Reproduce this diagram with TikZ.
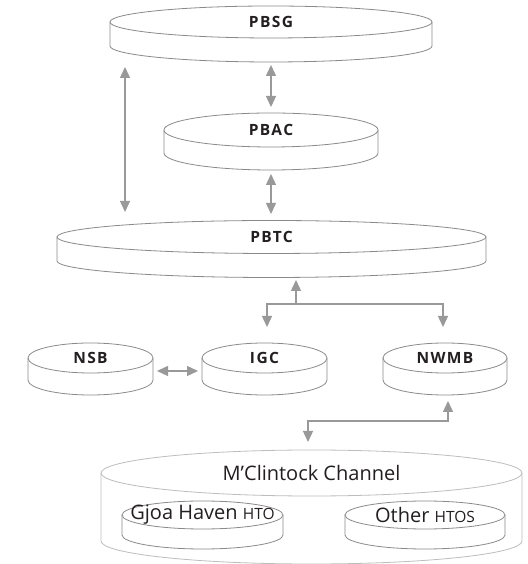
\documentclass[tikz,border=0pt]{standalone}
\usepackage{fontspec}
\setmainfont{Open Sans}
\newfontfamily\lblfont[LetterSpace=9]{Open Sans}
\usetikzlibrary{arrows.meta}
\definecolor{edgegray}{HTML}{8A8A8A}
\definecolor{arrgray}{HTML}{999999}
\definecolor{lightgray}{HTML}{BDBDBD}
\definecolor{txtcol}{HTML}{231F20}
\newcommand\htosc[1]{{\fontsize{15.5}{18}\selectfont #1}}
\newcommand\mydisk[7][]{%
  \draw[diskline,#1] ({#3-#5},#4) -- ({#3-#5},{#4-#7})
     arc[start angle=180,end angle=360,x radius=#5,y radius=#6] -- ({#3+#5},#4);
  \draw[diskline,#1] (#3,#4) ellipse[x radius=#5,y radius=#6];
  \coordinate (#2-c) at (#3,#4);
}
\tikzset{
  diskline/.style={draw=edgegray,line width=0.8pt,fill=white},
  lbl/.style={font=\lblfont\bfseries\fontsize{15.5}{18}\selectfont,text=txtcol,inner sep=0pt},
  plain/.style={font=\fontsize{20}{24}\selectfont,text=txtcol,inner sep=0pt},
  link/.style={draw=arrgray,line width=1.4pt,{Triangle[length=11pt,width=10pt]}-{Triangle[length=11pt,width=10pt]}},
  onearr/.style={draw=arrgray,line width=1.4pt,-{Triangle[length=11pt,width=10pt]}},
}
\begin{document}
\begin{tikzpicture}[x=1pt,y=1pt]
\useasboundingbox (0,0) rectangle (527,564);
% disks
\mydisk{pbsgd}{271}{542}{161}{16}{24}
\node[lbl] (pbsg) at (271,542) {PBSG};
\mydisk{pbacd}{271}{434}{107}{17}{23}
\node[lbl] (pbac) at (271,434) {PBAC};
\mydisk{pbtcd}{271.5}{327}{214.5}{16.5}{24}
\node[lbl] (pbtc) at (271.5,327) {PBTC};
\mydisk{nsbd}{90.5}{206}{62.5}{15}{22}
\node[lbl] (nsb) at (90.5,206) {NSB};
\mydisk{igcd}{264.5}{206}{62.5}{15}{22}
\node[lbl] (igc) at (264.5,206) {IGC};
\mydisk{nwmbd}{445}{206}{62}{15}{22}
\node[lbl] (nwmb) at (445,206) {NWMB};
\mydisk[draw=lightgray]{mccd}{311.5}{91}{210.5}{23}{68}
\node[plain] (mcc) at (311.5,91) {M’Clintock Channel};
\mydisk{gjoad}{202.5}{49}{80.5}{14}{20}
\node[plain] (gjoa) at (202.5,49) {Gjoa Haven \htosc{HTO}};
\mydisk{othd}{425}{49}{80}{14}{20}
\node[plain] (oth) at (425,49) {Other \htosc{HTOS}};
% connector coordinates
\coordinate (a1s) at (271,499);
\coordinate (a1e) at (271,457);
\coordinate (a2s) at (125,497);
\coordinate (a2e) at (125,352);
\coordinate (a3s) at (271,390);
\coordinate (a3e) at (271,350);
\coordinate (j1) at (296,260);
\coordinate (j1t) at (296,284);
\coordinate (j1l) at (267,260);
\coordinate (j1le) at (267,237);
\coordinate (j1r) at (443,260);
\coordinate (j1re) at (443,237);
\coordinate (a5s) at (157,193);
\coordinate (a5e) at (198,193);
\coordinate (j2t) at (448,163);
\coordinate (j2r) at (448,143);
\coordinate (j2l) at (308,143);
\coordinate (j2le) at (308,122);
% connectors
\draw[link] (a1s) -- (a1e);
\draw[link] (a2s) -- (a2e);
\draw[link] (a3s) -- (a3e);
\draw[onearr] (j1) -- (j1t);
\draw[link] (j1le) -- (j1l) -- (j1r) -- (j1re);
\draw[link] (a5s) -- (a5e);
\draw[link] (j2le) -- (j2l) -- (j2r) -- (j2t);
\end{tikzpicture}
\end{document}
